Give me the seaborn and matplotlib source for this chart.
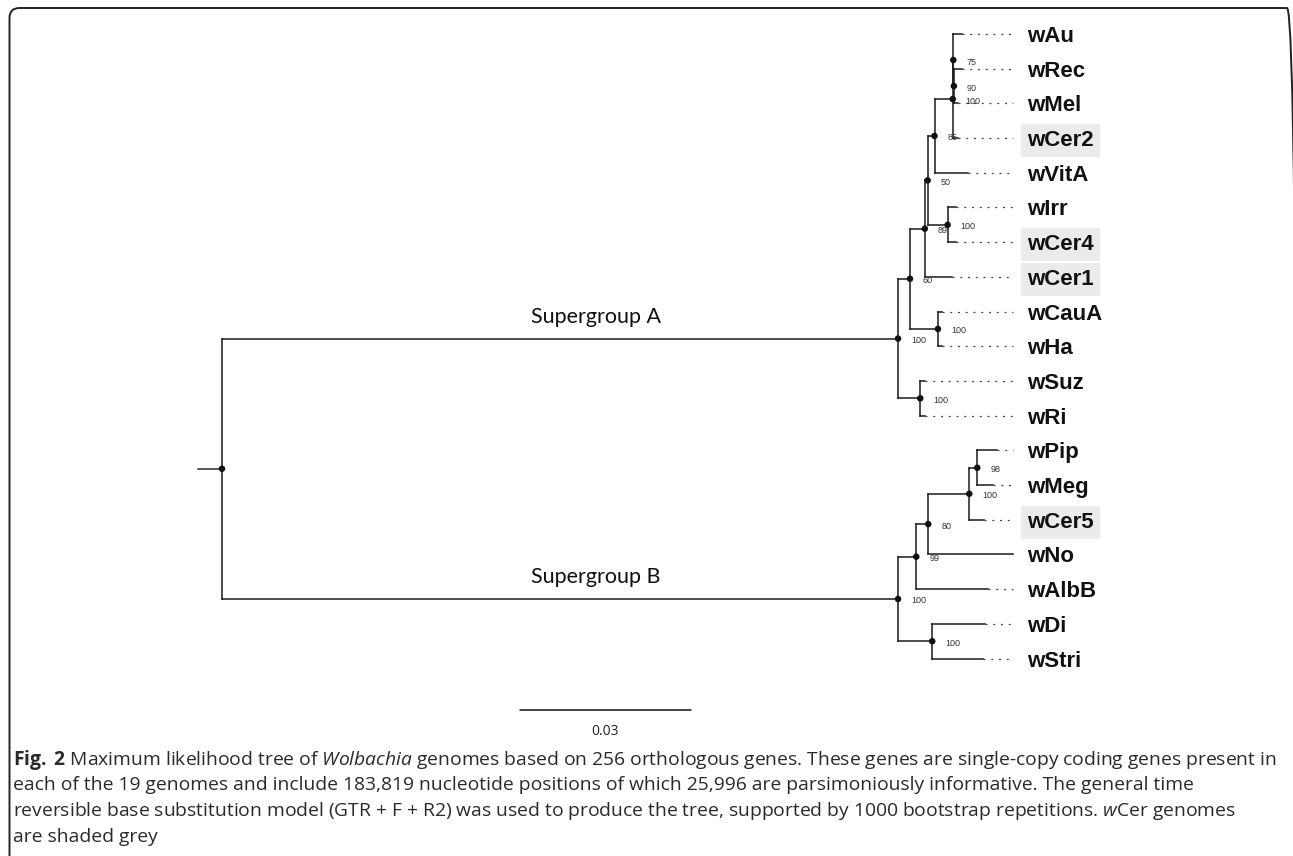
import matplotlib
matplotlib.use("Agg")
import matplotlib.pyplot as plt
from matplotlib.patches import FancyBboxPatch
from matplotlib.transforms import IdentityTransform
import pandas as pd
import seaborn as sns

# Tree as a parent table, branch lengths in substitutions per site
node_names = ["root", "A", "A1", "A2", "A3", "A4", "Cl", "Cla", "wAu", "Clb", "wRec", "wMel", "wCer2",
              "wVitA", "IC", "wIrr", "wCer4", "wCer1", "CH", "wCauA", "wHa", "SR", "wSuz", "wRi",
              "B", "B1", "B2", "B3", "PM", "wPip", "wMeg", "wCer5", "wNo", "wAlbB", "DS", "wDi", "wStri"]
parents = [None, "root", "A", "A1", "A2", "A3", "A4", "Cl", "Cla", "Cla", "Clb", "Clb", "Cl",
           "A4", "A3", "IC", "IC", "A2", "A1", "CH", "CH", "A", "SR", "SR",
           "root", "B", "B1", "B2", "B3", "PM", "PM", "B3", "B2", "B1", "B", "DS", "DS"]
branch_lengths = [0.0042, 0.1186, 0.0021, 0.0026, 0.0005, 0.0012, 0.0032, 0.0001, 0.0016, 0.0001, 0.0015, 0.0008, 0.0009,
                  0.0058, 0.0035, 0.0014, 0.0014, 0.0047, 0.0049, 0.0007, 0.0007, 0.0039, 0.0009, 0.0009,
                  0.1186, 0.0032, 0.0021, 0.0072, 0.0014, 0.0035, 0.0028, 0.0025, 0.0149, 0.0125, 0.0060, 0.0093, 0.0089]
support = [None, 100, 60, 89, 50, 85, 100, 75, None, 90, None, None, None,
           None, 100, None, None, None, 100, None, None, 100, None, None,
           100, 99, 80, 100, 98, None, None, None, None, None, 100, None, None]

shaded_tips = ["wCer2", "wCer4", "wCer1", "wCer5"]
group_clades = ["A", "B"]
group_labels = ["Supergroup A", "Supergroup B"]
scale_len = 0.03

caption_lines = [
    r"$\mathbf{Fig.\;2}$ Maximum likelihood tree of $\mathit{Wolbachia}$ genomes based on 256 orthologous genes. These genes are single-copy coding genes present in",
    "each of the 19 genomes and include 183,819 nucleotide positions of which 25,996 are parsimoniously informative. The general time",
    r"reversible base substitution model (GTR + F + R2) was used to produce the tree, supported by 1000 bootstrap repetitions. $\mathit{w}$Cer genomes",
    "are shaded grey",
]

# layout in pixels
W, H = 1293, 856
root_px, px_per_unit = 222, 5700
top_px, row_px = 34, 34.7

sns.set_theme(style="white")
plt.rcParams["font.family"] = ["Liberation Sans", "DejaVu Sans"]
plt.rcParams["mathtext.fontset"] = "custom"
plt.rcParams["mathtext.rm"] = "Open Sans"
plt.rcParams["mathtext.it"] = "Open Sans:italic"
plt.rcParams["mathtext.bf"] = "Open Sans:bold"

bl = dict(zip(node_names, branch_lengths))
par = dict(zip(node_names, parents))
children = {n: [] for n in node_names}
for n, p in zip(node_names, parents):
    if p is not None:
        children[p].append(n)

xpos, ypos, tip_order = {}, {}, []


def place(n, x):
    xpos[n] = x
    if not children[n]:
        ypos[n] = len(tip_order)
        tip_order.append(n)
        return
    for c in children[n]:
        place(c, x + bl[c])
    ypos[n] = (ypos[children[n][0]] + ypos[children[n][-1]]) / 2


place("root", 0.0)

fig = plt.figure(figsize=(W / 100, H / 100), dpi=100)
ax = fig.add_axes([0, 0, 1, 1])

line_kw = dict(color="#1a1a1a", lw=1.1, solid_capstyle="projecting")
for n in node_names:
    p = par[n]
    if p is not None:
        ax.plot([xpos[p], xpos[n]], [ypos[n], ypos[n]], **line_kw)
    if children[n]:
        ax.plot([xpos[n], xpos[n]], [ypos[children[n][0]], ypos[children[n][-1]]], **line_kw)
ax.plot([-bl["root"], 0], [ypos["root"]] * 2, color="#555555", lw=1.4)

# node dots
internal = [n for n in node_names if children[n]]
nodes_df = pd.DataFrame({"x": [xpos[n] for n in internal], "y": [ypos[n] for n in internal]})
sns.scatterplot(data=nodes_df, x="x", y="y", ax=ax, s=22, color="#111111", edgecolor="none", zorder=5)

# dotted leaders + tip names
x_align = max(xpos[t] for t in tip_order)
for t in tip_order:
    if x_align - xpos[t] > 1e-6:
        ax.plot([xpos[t], x_align], [ypos[t]] * 2, color="#444444", lw=0.9, linestyle=(0, (1.6, 4.6)))
    box = dict(boxstyle="square,pad=0.28", fc="#ebebeb", ec="none") if t in shaded_tips else None
    ax.annotate(t, (x_align, ypos[t]), xytext=(14, 0), textcoords="offset pixels", ha="left",
                va="center_baseline", fontsize=16, fontweight="bold", color="#111111", bbox=box)

# bootstrap values
for n, s in zip(node_names, support):
    if s is not None:
        ax.annotate(str(s), (xpos[n], ypos[n]), xytext=(13, -2), textcoords="offset pixels",
                    ha="left", va="center", fontsize=6.5, color="#333333")

for clade, name in zip(group_clades, group_labels):
    ax.annotate(name, (xpos[clade] * 0.553, ypos[clade]), xytext=(0, 16), textcoords="offset pixels",
                ha="center", va="baseline", fontsize=15.5, family="Lato", color="#111111")

# scale bar
sb_x = (520 - root_px) / px_per_unit
sb_y = (710 - top_px) / row_px
ax.plot([sb_x, sb_x + scale_len], [sb_y, sb_y], color="#111111", lw=1.1)
ax.annotate(f"{scale_len}", (sb_x + scale_len / 2, sb_y), xytext=(0, -22), textcoords="offset pixels",
            ha="center", va="center", fontsize=10, family="Open Sans", color="#222222")

ax.set_xlim(-root_px / px_per_unit, (W - root_px) / px_per_unit)
ax.set_ylim((H - top_px) / row_px, -top_px / row_px)
ax.axis("off")

# caption
for i, line in enumerate(caption_lines):
    fig.text(13 / W, 1 - (765 + 25.5 * i) / H, line, fontsize=13.9, family="Open Sans",
             va="baseline", ha="left", color="#2a2a2a")

frame = FancyBboxPatch((9.5, -30), 1297 - 9.5, 848 + 30, boxstyle="round,pad=0,rounding_size=10",
                       transform=IdentityTransform(), fill=False, ec="#222222", lw=1.4)
fig.add_artist(frame)

fig.savefig("out.png", dpi=100)
